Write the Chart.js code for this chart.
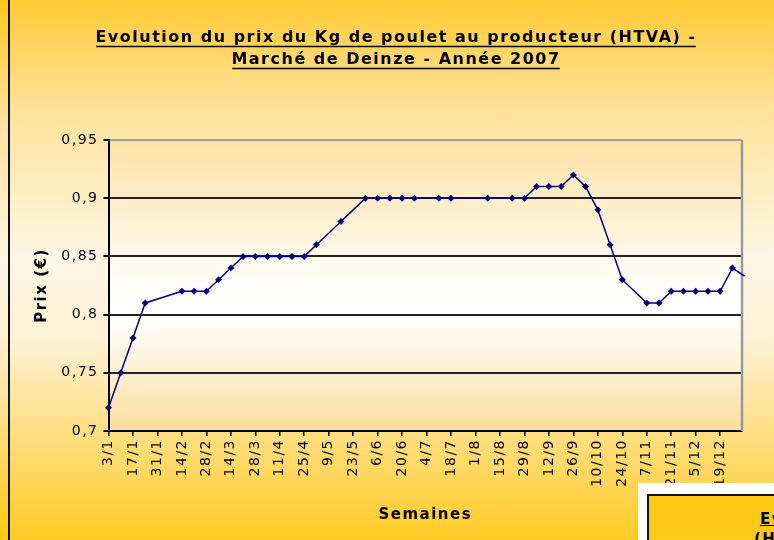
<!DOCTYPE html>
<html lang="fr">
<head>
<meta charset="UTF-8">
<title>Evolution du prix du Kg de poulet</title>
<style>
  html, body { margin: 0; padding: 0; width: 774px; height: 540px; overflow: hidden; }
  body {
    position: relative;
    background: linear-gradient(to bottom, #FFC620 0%, #FFE29A 22%, #FFF6E4 48%, #FFF1D6 62%, #FFD65A 86%, #FFC812 100%);
    font-family: "DejaVu Sans", Verdana, sans-serif;
  }
  #wrap {
    position: absolute; left: 8px; top: -20px; width: 778px; height: 580px;
    border-left: 2px solid #111;
    background: linear-gradient(to bottom, #FFC620 0%, #FFE29A 22%, #FFF6E4 48%, #FFF1D6 62%, #FFD65A 86%, #FFC812 100%);
  }
  #chartCanvas { position: absolute; left: 0; top: 0; }
  /* the next chart of the page, partly visible in the corner */
  #nextChart { position: absolute; left: 638px; top: 483px; width: 200px; height: 100px; background: #fff; }
  #nextChart .inner {
    position: absolute; left: 9px; top: 11px; width: 200px; height: 100px;
    border: 2px solid #111; background: linear-gradient(to bottom, #FFC814, #FFCC22);
  }
  #nextChart span {
    position: absolute; font-weight: bold; font-size: 15px; letter-spacing: 1.5px;
    text-decoration: underline; white-space: nowrap; color: #000;
  }
</style>
</head>
<body>
<div id="wrap">
  <canvas id="chartCanvas" width="778" height="580"></canvas>
</div>
<div id="nextChart">
  <div class="inner">
    <span style="left:111px; top:14px;">Evolution</span>
    <span style="left:105px; top:34px;">(HTVA)</span>
  </div>
</div>

<script src="https://cdn.jsdelivr.net/npm/chart.js"></script>
<script>
  // semaines (date du relevé) et prix au producteur en €/kg
  const weeks = ['3/1', '10/1', '17/1', '24/1', '14/2', '21/2', '28/2', '7/3', '14/3', '21/3',
    '28/3', '4/4', '11/4', '18/4', '25/4', '2/5', '16/5', '23/5', '30/5', '6/6',
    '13/6', '20/6', '27/6', '11/7', '18/7', '8/8', '22/8', '29/8', '5/9', '12/9',
    '19/9', '26/9', '3/10', '10/10', '17/10', '24/10', '7/11', '14/11', '21/11', '28/11',
    '5/12', '12/12', '19/12', '26/12', '2/1/2008'];
  const prices = [0.72, 0.75, 0.78, 0.81, 0.82, 0.82, 0.82, 0.83, 0.84, 0.85,
    0.85, 0.85, 0.85, 0.85, 0.85, 0.86, 0.88, 0.89, 0.90, 0.90,
    0.90, 0.90, 0.90, 0.90, 0.90, 0.90, 0.90, 0.90, 0.91, 0.91,
    0.91, 0.92, 0.91, 0.89, 0.86, 0.83, 0.81, 0.81, 0.82, 0.82,
    0.82, 0.82, 0.82, 0.84, 0.833];
  // relevés tracés sans marqueur
  const noMarker = ['23/5', '2/1/2008'];

  const tickLabels = ['3/1', '17/1', '31/1', '14/2', '28/2', '14/3', '28/3', '11/4', '25/4', '9/5',
    '23/5', '6/6', '20/6', '4/7', '18/7', '1/8', '15/8', '29/8', '12/9', '26/9',
    '10/10', '24/10', '7/11', '21/11', '5/12', '19/12'];
  const yTicks = [0.7, 0.75, 0.8, 0.85, 0.9, 0.95];

  // jour de l'année 2007 (3 janvier = 3)
  function dayOf(s) {
    const p = s.split('/');
    const y = p[2] ? +p[2] : 2007;
    return (Date.UTC(y, +p[1] - 1, +p[0]) - Date.UTC(2007, 0, 0)) / 86400000;
  }
  const labelByDay = {};
  tickLabels.forEach(l => { labelByDay[dayOf(l)] = l; });

  const font = '"DejaVu Sans", Verdana, sans-serif';
  const titleSize = 16;
  const titleLine = 22;

  // espacement des lettres comme dans l'original
  const spacing = {
    id: 'spacing',
    beforeLayout(chart) { chart.ctx.letterSpacing = '1.5px'; },
    beforeDraw(chart) { chart.ctx.letterSpacing = '1.5px'; }
  };

  // fond de la zone de tracé + bord droit gris
  const plotBg = {
    id: 'plotBg',
    beforeDraw(chart) {
      const {ctx, chartArea: a} = chart;
      const g = ctx.createLinearGradient(0, a.top, 0, a.bottom);
      g.addColorStop(0, '#FDE2A4');
      g.addColorStop(0.5, '#FFFEFB');
      g.addColorStop(0.62, '#FFFFFF');
      g.addColorStop(1, '#FCDD9C');
      ctx.save();
      ctx.fillStyle = g;
      ctx.fillRect(a.left, a.top, a.right - a.left, a.bottom - a.top);
      ctx.restore();
    },
    beforeDatasetsDraw(chart) {
      const {ctx, chartArea: a} = chart;
      ctx.save();
      ctx.strokeStyle = '#9a9a9a';
      ctx.lineWidth = 2.5;
      ctx.beginPath();
      ctx.moveTo(a.right, a.top);
      ctx.lineTo(a.right, a.bottom);
      ctx.stroke();
      ctx.restore();
    }
  };

  // titre souligné
  const underline = {
    id: 'underline',
    afterDraw(chart) {
      const t = chart.titleBlock;
      if (!t) return;
      const o = chart.options.plugins.title;
      const ctx = chart.ctx;
      ctx.save();
      ctx.font = `bold ${titleSize}px ${font}`;
      ctx.letterSpacing = '1.5px';
      ctx.strokeStyle = '#000';
      ctx.lineWidth = 1.5;
      const cx = (t.left + t.right) / 2;
      o.text.forEach((line, i) => {
        const w = ctx.measureText(line).width - 1.5;
        const y = t.top + o.padding.top + titleLine / 2 + i * titleLine + titleSize * 0.5 + 0.5;
        ctx.beginPath();
        ctx.moveTo(cx - w / 2, y);
        ctx.lineTo(cx + w / 2, y);
        ctx.stroke();
      });
      ctx.restore();
    }
  };

  const ctx = document.getElementById('chartCanvas').getContext('2d');
  const chart = new Chart(ctx, {
    type: 'line',
    data: {
      datasets: [{
        data: weeks.map((w, i) => ({x: dayOf(w), y: prices[i]})),
        borderColor: '#000080',
        backgroundColor: '#000080',
        borderWidth: 1.5,
        pointStyle: 'rectRot',
        pointRadius: weeks.map(w => noMarker.includes(w) ? 0 : 3.5),
        pointBackgroundColor: '#000080',
        pointBorderColor: '#000080',
        pointBorderWidth: 0,
        tension: 0,
        clip: false
      }]
    },
    options: {
      responsive: false,
      animation: false,
      layout: { padding: { top: 0, left: 0, right: 6, bottom: 24 } },
      plugins: {
        legend: { display: false },
        tooltip: { enabled: false },
        title: {
          display: true,
          text: ['Evolution du prix du Kg de poulet au producteur (HTVA) -', 'Marché de Deinze - Année 2007'],
          color: '#000',
          font: { family: font, size: titleSize, weight: 'bold', lineHeight: titleLine + 'px' },
          padding: { top: 47, bottom: 69 }
        }
      },
      scales: {
        x: {
          type: 'linear',
          min: 3,
          max: 365.5,
          afterBuildTicks(scale) {
            scale.ticks = tickLabels.map(l => ({value: dayOf(l)}));
          },
          afterFit(scale) { scale.height = 105; },
          ticks: {
            autoSkip: false,
            minRotation: 90,
            maxRotation: 90,
            padding: 3,
            color: '#000',
            font: { family: font, size: 14 },
            callback: v => labelByDay[v] || ''
          },
          grid: { drawOnChartArea: false, drawTicks: true, tickLength: 5, tickColor: '#000', lineWidth: 1.5 },
          border: { color: '#000', width: 2 },
          title: {
            display: true,
            text: 'Semaines',
            color: '#000',
            font: { family: font, size: 15, weight: 'bold' },
            padding: { top: 0, bottom: 12 }
          }
        },
        y: {
          min: 0.7,
          max: 0.95,
          afterBuildTicks(scale) {
            scale.ticks = yTicks.map(v => ({value: v}));
          },
          afterFit(scale) { scale.width = 98.5; },
          ticks: {
            padding: 5,
            color: '#000',
            font: { family: font, size: 14 },
            callback: v => String(Number(v.toFixed(2))).replace('.', ',')
          },
          grid: {
            color: c => (c.tick && c.tick.value > 0.94) ? '#a0a0a0' : '#222',
            lineWidth: 2,
            tickLength: 5,
            tickColor: '#000'
          },
          border: { color: '#000', width: 2 },
          title: {
            display: true,
            text: 'Prix (€)',
            color: '#000',
            font: { family: font, size: 15, weight: 'bold' },
            padding: { top: 23, bottom: 0 }
          }
        },
        // marge à droite de la zone de tracé (sans rien afficher)
        yRight: {
          position: 'right',
          min: 0.7,
          max: 0.95,
          afterFit(scale) { scale.width = 40; },
          ticks: { display: false },
          grid: { display: false },
          border: { display: false }
        }
      }
    },
    plugins: [spacing, plotBg, underline]
  });
</script>
</body>
</html>
